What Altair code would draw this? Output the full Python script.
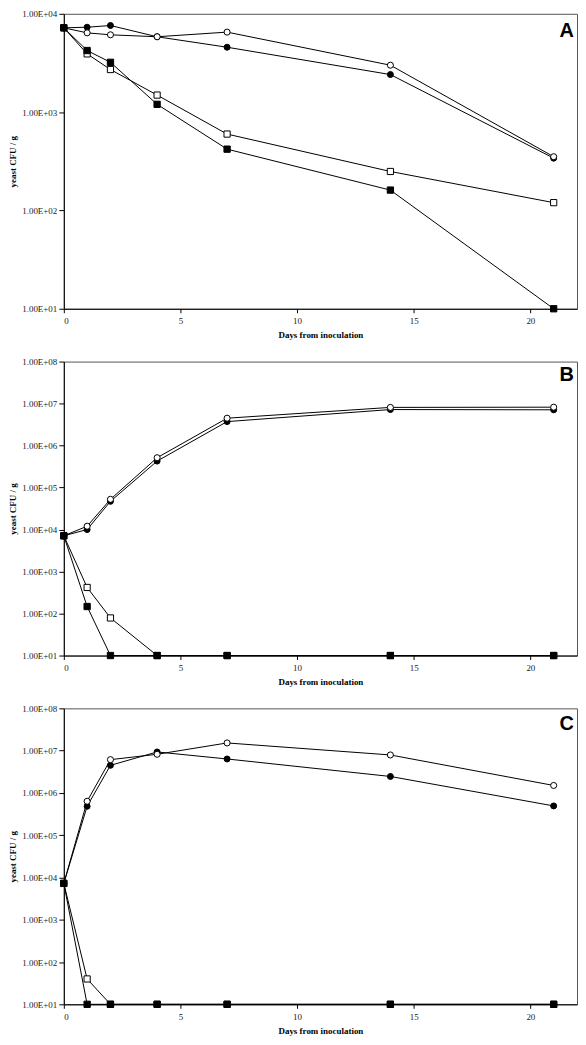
import altair as alt
import pandas as pd

days = [0, 1, 2, 4, 7, 14, 21]
series_names = ["filled circle", "open circle", "open square", "filled square"]
panel_letters = ["A", "B", "C"]

a_filled_circle = [7200, 7300, 7600, 5840, 4570, 2410, 340]
a_open_circle = [7200, 6400, 6110, 5840, 6510, 3000, 352]
a_open_square = [7200, 3910, 2710, 1490, 598, 249, 120]
a_filled_square = [7200, 4230, 3210, 1200, 420, 161, 10]

b_filled_circle = [7100, 10000, 47000, 427000, 3720000, 7200000, 7100000]
b_open_circle = [7100, 12000, 52500, 513000, 4480000, 8100000, 8200000]
b_open_square = [7100, 418, 78.5, 10, 10, 10, 10]
b_filled_square = [7100, 147, 10, 10, 10, 10, 10]

c_filled_circle = [7240, 483000, 4490000, 9300000, 6350000, 2450000, 492000]
c_open_circle = [7240, 635000, 6120000, 8200000, 15200000, 7900000, 1500000]
c_open_square = [7240, 39.8, 10, 10, 10, 10, 10]
c_filled_square = [7240, 10, 10, 10, 10, 10, 10]

a_yticks = [10, 100, 1000, 10000]
bc_yticks = [10, 100, 1000, 10000, 100000, 1000000, 10000000, 100000000]
x_ticks = [0, 5, 10, 15, 20]

SERIF = "Liberation Serif"
label_expr = "'1.00E+' + (round(log(datum.value)/LN10) < 10 ? '0' : '') + round(log(datum.value)/LN10)"


def panel(letter, series_values, yticks, height, letter_y):
    rows = []
    for name, vals in zip(series_names, series_values):
        for d, v in zip(days, vals):
            rows.append({"series": name, "day": d, "value": v})
    df = pd.DataFrame(rows)

    x = alt.X("day:Q",
              scale=alt.Scale(domain=[0, 22], nice=False, zero=False),
              axis=alt.Axis(values=x_ticks, title="Days from inoculation",
                            tickSize=4, labelPadding=4, titlePadding=5))
    y = alt.Y("value:Q",
              scale=alt.Scale(type="log", domain=[yticks[0], yticks[-1]], nice=False),
              axis=alt.Axis(values=yticks, labelExpr=label_expr, title="yeast CFU / g",
                            tickSize=5, labelPadding=2, titlePadding=4))

    base = alt.Chart(df)
    lines = base.mark_line(color="black", strokeWidth=1).encode(
        x=x, y=y, detail="series:N", order="day:Q")
    pts = base.mark_point(opacity=1, fillOpacity=1, stroke="black", strokeWidth=1).encode(
        x=x, y=y,
        shape=alt.Shape("series:N", scale=alt.Scale(domain=series_names,
                        range=["circle", "circle", "square", "square"]), legend=None),
        fill=alt.Fill("series:N", scale=alt.Scale(domain=series_names,
                      range=["black", "white", "white", "black"]), legend=None),
        size=alt.Size("series:N", scale=alt.Scale(domain=series_names,
                      range=[36, 40, 56, 52]), legend=None),
    )
    lab = alt.Chart(pd.DataFrame({"t": [letter]})).mark_text(
        font="Liberation Sans", fontWeight="bold", fontSize=20, align="right",
        baseline="alphabetic", color="black").encode(
        text="t:N", x=alt.value(512), y=alt.value(letter_y))
    return alt.layer(lines, pts, lab).properties(width=515, height=height)


pa = panel("A", [a_filled_circle, a_open_circle, a_open_square, a_filled_square], a_yticks, 296, 23)
pb = panel("B", [b_filled_circle, b_open_circle, b_open_square, b_filled_square], bc_yticks, 295, 20)
pc = panel("C", [c_filled_circle, c_open_circle, c_open_square, c_filled_square], bc_yticks, 297, 22)

chart = alt.vconcat(pa, pb, pc, spacing=16).properties(
    padding={"left": 0, "top": -1, "right": 0, "bottom": 0}
).configure_view(
    stroke="#555555", strokeWidth=1
).configure_axis(
    grid=False, domainColor="black", tickColor="black",
    labelFont=SERIF, labelFontSize=9, labelColor="#222222",
    titleFont=SERIF, titleFontSize=9, titleFontWeight="bold", titleColor="black"
)

chart.save("out.html", embed_options={"renderer": "svg", "actions": False})
